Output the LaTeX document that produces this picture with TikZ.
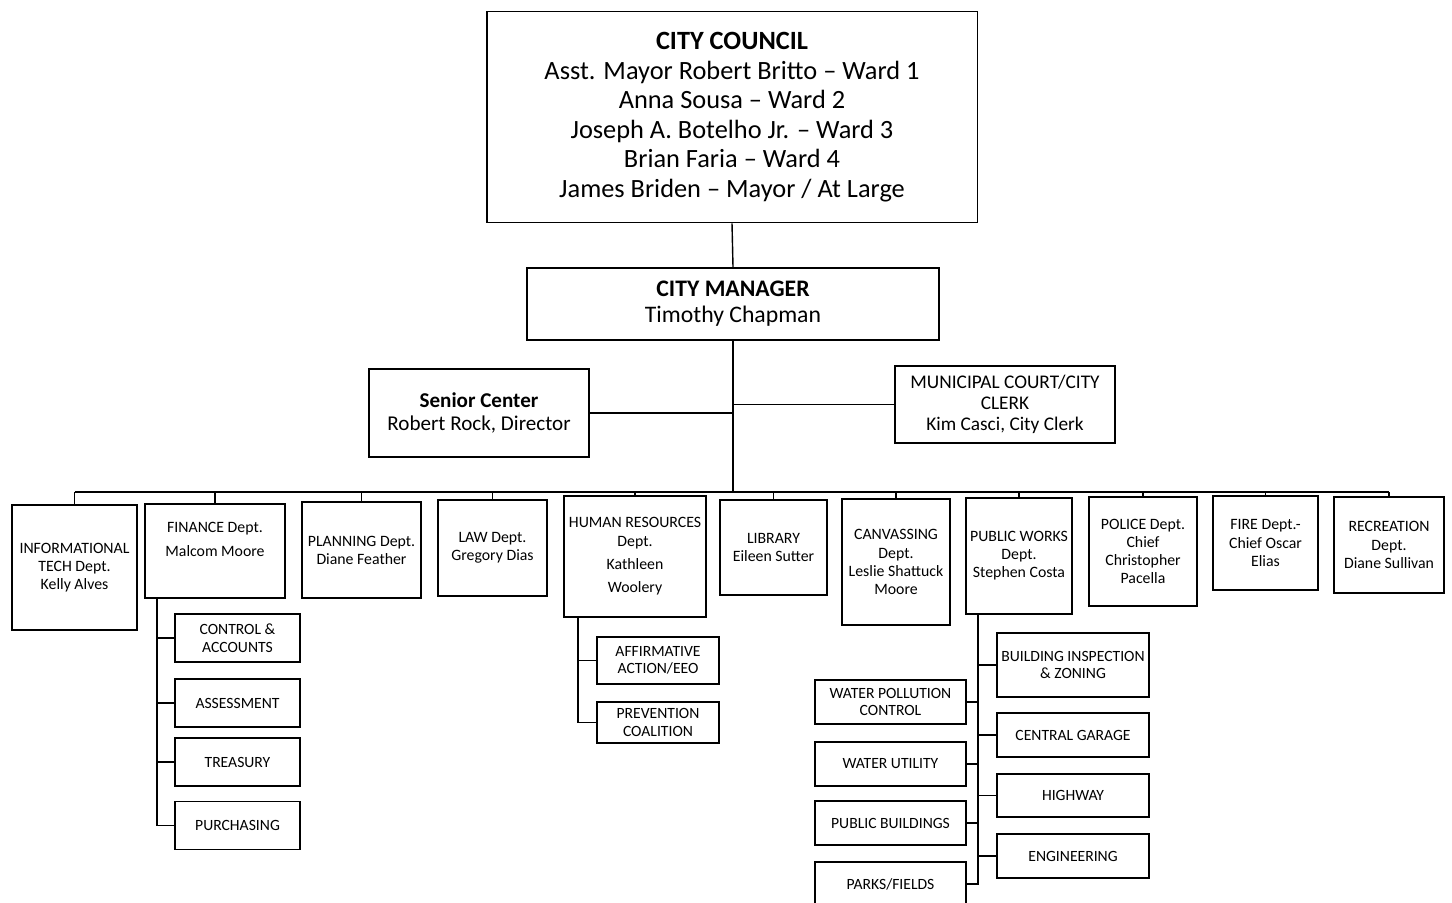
\documentclass[tikz,border=0pt]{standalone}
\usepackage{fontspec}
\setmainfont{Carlito}
\usepackage{tikz}

\begin{document}
\begin{tikzpicture}[x=0.02cm, y=-0.02cm]
    % Define styles
    \tikzstyle{council} = [rectangle, draw, line width=1.1pt, align=center, inner sep=0pt, font=\fontsize{15}{16.8}\selectfont]
    \tikzstyle{head} = [rectangle, draw, line width=1.1pt, align=center, inner sep=0pt]
    \tikzstyle{dept} = [rectangle, draw, line width=1.1pt, align=center, inner sep=0pt, font=\fontsize{9}{10.3}\selectfont]
    \tikzstyle{unit} = [rectangle, draw, line width=1.1pt, align=center, inner sep=0pt, font=\fontsize{8.9}{10}\selectfont]
    \tikzstyle{link} = [line width=0.8pt]

    \useasboundingbox (0,0) rectangle (1452,902);

    % Top of the chart
    \node [council, minimum width=9.82cm, minimum height=4.22cm] (council) at (732,117)
        {\textbf{CITY COUNCIL}\\Asst. Mayor Robert Britto -- Ward 1\\Anna Sousa -- Ward 2\\Joseph A. Botelho Jr. -- Ward 3\\Brian Faria -- Ward 4\\James Briden -- Mayor / At Large};
    \node [head, minimum width=8.24cm, minimum height=1.44cm, font=\fontsize{13.5}{14.7}\selectfont] (manager) at (733,304)
        {\textbf{CITY MANAGER}\\Timothy Chapman};
    \node [head, minimum width=4.4cm, minimum height=1.76cm, font=\fontsize{12}{13.6}\selectfont] (senior) at (479,413)
        {\textbf{Senior Center}\\Robert Rock, Director};
    \node [head, minimum width=4.4cm, minimum height=1.54cm, font=\fontsize{11}{12}\selectfont] (court) at (1005,404.5)
        {MUNICIPAL COURT/CITY\\CLERK\\Kim Casci, City Clerk};

    % Departments
    \node [dept, minimum width=2.5cm, minimum height=2.5cm] (info) at (74.5,567.5) {INFORMATIONAL\\TECH Dept.\\Kelly Alves};
    \node [dept, minimum width=2.8cm, minimum height=1.88cm] (finance) at (215,551) {FINANCE Dept.\\[3pt]Malcom Moore\\ \strut};
    \node [dept, minimum width=2.38cm, minimum height=1.92cm] (planning) at (361.5,550) {PLANNING Dept.\\Diane Feather};
    \node [dept, minimum width=2.18cm, minimum height=1.92cm] (law) at (492.5,548) {LAW Dept.\\Gregory Dias};
    \node [dept, minimum width=2.84cm, minimum height=2.42cm] (hr) at (635,556.5) {HUMAN RESOURCES\\Dept.\\[3pt]Kathleen\\[3pt]Woolery};
    \node [dept, minimum width=2.14cm, minimum height=1.9cm] (library) at (773.5,547.5) {LIBRARY\\Eileen Sutter};
    \node [dept, minimum width=2.16cm, minimum height=2.52cm] (canvass) at (896,562) {CANVASSING\\Dept.\\Leslie Shattuck\\Moore};
    \node [dept, minimum width=2.12cm, minimum height=2.32cm] (works) at (1019,556) {PUBLIC WORKS\\Dept.\\Stephen Costa};
    \node [dept, minimum width=2.16cm, minimum height=2.18cm] (police) at (1143,551.5) {POLICE Dept.\\Chief\\Christopher\\Pacella};
    \node [dept, minimum width=2.1cm, minimum height=1.88cm] (fire) at (1265.5,543) {FIRE Dept.-\\Chief Oscar\\Elias};
    \node [dept, minimum width=2.2cm, minimum height=1.92cm] (recreation) at (1389,545) {RECREATION\\Dept.\\Diane Sullivan};

    % Finance units
    \node [unit, minimum width=2.5cm, minimum height=0.96cm] (control) at (237.5,638) {CONTROL \&\\ACCOUNTS};
    \node [unit, minimum width=2.5cm, minimum height=0.96cm] (assess) at (237.5,703) {ASSESSMENT};
    \node [unit, minimum width=2.5cm, minimum height=0.96cm] (treasury) at (237.5,762) {TREASURY};
    \node [unit, minimum width=2.5cm, minimum height=0.96cm] (purchase) at (237.5,825.5) {PURCHASING};

    % Human resources units
    \node [unit, minimum width=2.44cm, minimum height=0.94cm] (affirm) at (658,660.5) {AFFIRMATIVE\\ACTION/EEO};
    \node [unit, minimum width=2.44cm, minimum height=0.82cm] (prevent) at (658,722.5) {PREVENTION\\COALITION};

    % Public works units
    \node [unit, minimum width=3.04cm, minimum height=1.28cm] (building) at (1073,665) {BUILDING INSPECTION\\\& ZONING};
    \node [unit, minimum width=3.04cm, minimum height=0.88cm] (garage) at (1073,735) {CENTRAL GARAGE};
    \node [unit, minimum width=3.04cm, minimum height=0.86cm] (highway) at (1073,795.5) {HIGHWAY};
    \node [unit, minimum width=3.04cm, minimum height=0.88cm] (engineer) at (1073,856) {ENGINEERING};
    \node [unit, minimum width=3.02cm, minimum height=0.88cm] (pollution) at (890.5,702) {WATER POLLUTION\\CONTROL};
    \node [unit, minimum width=3.02cm, minimum height=0.88cm] (utility) at (890.5,764) {WATER UTILITY};
    \node [unit, minimum width=3.02cm, minimum height=0.88cm] (buildings) at (890.5,823) {PUBLIC BUILDINGS};
    \node [unit, minimum width=3.02cm, minimum height=0.88cm] (parks) at (890.5,884) {PARKS/FIELDS};

    % Connectors
    \coordinate (bus) at (733,492);
    \draw [link] (council.south) -- (manager.north);
    \draw [link] (manager.south) -- (bus);
    \draw [link] (senior.east) -- (senior.east -| manager.south);
    \draw [link] (court.west) -- (court.west -| manager.south);
    \draw [link] (info.north |- bus) -- (recreation.north |- bus);
    \foreach \d in {info,finance,planning,law,hr,library,canvass,works,police,fire,recreation}
        \draw [link] (\d.north) -- (\d.north |- bus);

    \draw [link] ([xshift=0.26cm]finance.south west) coordinate (fspine) |- (purchase.west);
    \foreach \u in {control,assess,treasury}
        \draw [link] (\u.west) -- (\u.west -| fspine);

    \draw [link] ([xshift=0.3cm]hr.south west) coordinate (hspine) |- (prevent.west);
    \draw [link] (affirm.west) -- (affirm.west -| hspine);

    \draw [link] ([xshift=0.26cm]works.south west) coordinate (pspine) |- (parks.east);
    \foreach \u in {building,garage,highway,engineer}
        \draw [link] (\u.west) -- (\u.west -| pspine);
    \foreach \u in {pollution,utility,buildings}
        \draw [link] (\u.east) -- (\u.east -| pspine);
\end{tikzpicture}
\end{document}
